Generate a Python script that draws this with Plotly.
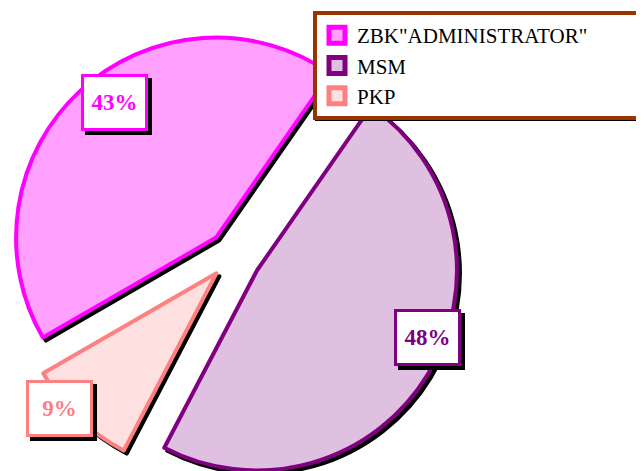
import math
import plotly.graph_objects as go

labels = ['ZBK"ADMINISTRATOR"', "MSM", "PKP"]
values = [43, 48, 9]

fills = ["#ffa0ff", "#e0c0e0", "#ffe0e0"]
edges = ["#ff00ff", "#800080", "#ff8080"]

W, H = 644, 471
PAGE = 8            # the page body margin shifts the figure by this much
ROT = -120          # start of first slice, degrees clockwise from 12 o'clock
R = 200             # pie radius, px
CX, CY = 233, 256   # pie centre on screen, px
PULL = [25, 28, 24]  # explode distance per slice, px
SHADOW = 3
CLEAR = "rgba(0,0,0,0)"

# centres of the percent boxes on screen, px
label_pos = [(114, 103), (427, 337), (59, 408)]

total = sum(values)


def fx(px):
    return (px - PAGE) / W


def fy(py):
    return 1 - (py - PAGE) / H


def clamp(v):
    return min(1.0, max(0.0, v))


def domain(cx, cy):
    return dict(x=[clamp(fx(cx - R)), clamp(fx(cx + R))],
                y=[clamp(fy(cy + R)), clamp(fy(cy - R))])


# centre of each exploded slice
centres = []
acc = 0
for i, v in enumerate(values):
    mid = math.radians(ROT + 360 * (acc + v / 2) / total)
    centres.append((CX + PULL[i] * math.sin(mid), CY - PULL[i] * math.cos(mid)))
    acc += v


def slice_pie(i, color, line, d=0):
    cols = [color if j == i else CLEAR for j in range(len(values))]
    lines = [line if j == i else CLEAR for j in range(len(values))]
    cx, cy = centres[i]
    return go.Pie(
        labels=labels,
        values=values,
        sort=False,
        direction="clockwise",
        rotation=ROT,
        marker=dict(colors=cols, line=dict(color=lines, width=4)),
        textinfo="none",
        hoverinfo="skip",
        showlegend=False,
        domain=domain(cx + d, cy + d),
    )


fig = go.Figure()

# black drop shadows first, then the coloured slices on top
for i in range(len(values)):
    fig.add_trace(slice_pie(i, "black", "black", SHADOW))
for i in range(len(values)):
    fig.add_trace(slice_pie(i, fills[i], edges[i]))

# legend entries; the legend box runs off the right edge as in the original
pad = "\u00a0" * 9
for k, (lab, f, e) in enumerate(zip(labels, fills, edges)):
    fig.add_trace(
        go.Scatter(
            x=[None], y=[None], mode="markers", name=lab + (pad if k == 0 else ""),
            hoverinfo="skip",
            marker=dict(symbol="square", size=16, color=f, line=dict(color=e, width=5)),
        )
    )

annotations = []
for (px, py), v, e in zip(label_pos, values, edges):
    txt = f"{round(100 * v / total)}%"
    common = dict(
        x=fx(px), y=fy(py), xref="paper", yref="paper",
        xanchor="center", yanchor="middle",
        showarrow=False, width=61, height=51, borderwidth=3, borderpad=0,
    )
    # black drop-shadow box, then the label box on top
    annotations.append(dict(common, text="\u00a0", xshift=4, yshift=-4,
                            bgcolor="black", bordercolor="black"))
    annotations.append(dict(common, text=txt, bgcolor="white", bordercolor=e,
                            font=dict(family="Liberation Serif", size=23, color=e, weight="bold")))

fig.update_layout(
    width=W,
    height=H,
    margin=dict(l=0, r=0, t=0, b=0, autoexpand=False),
    paper_bgcolor="white",
    plot_bgcolor="white",
    xaxis=dict(visible=False),
    yaxis=dict(visible=False),
    annotations=annotations,
    shapes=[dict(type="rect", xref="paper", yref="paper", x0=fx(315), x1=1.3,
                 y0=fy(121), y1=fy(18), fillcolor="black", line_width=0, layer="above")],
    legend=dict(
        x=fx(313), y=fy(11), xanchor="left", yanchor="top",
        bgcolor="white", bordercolor="#993300", borderwidth=4,
        font=dict(family="Liberation Serif", size=21, color="black"),
    ),
)

fig.write_html("out.html")
